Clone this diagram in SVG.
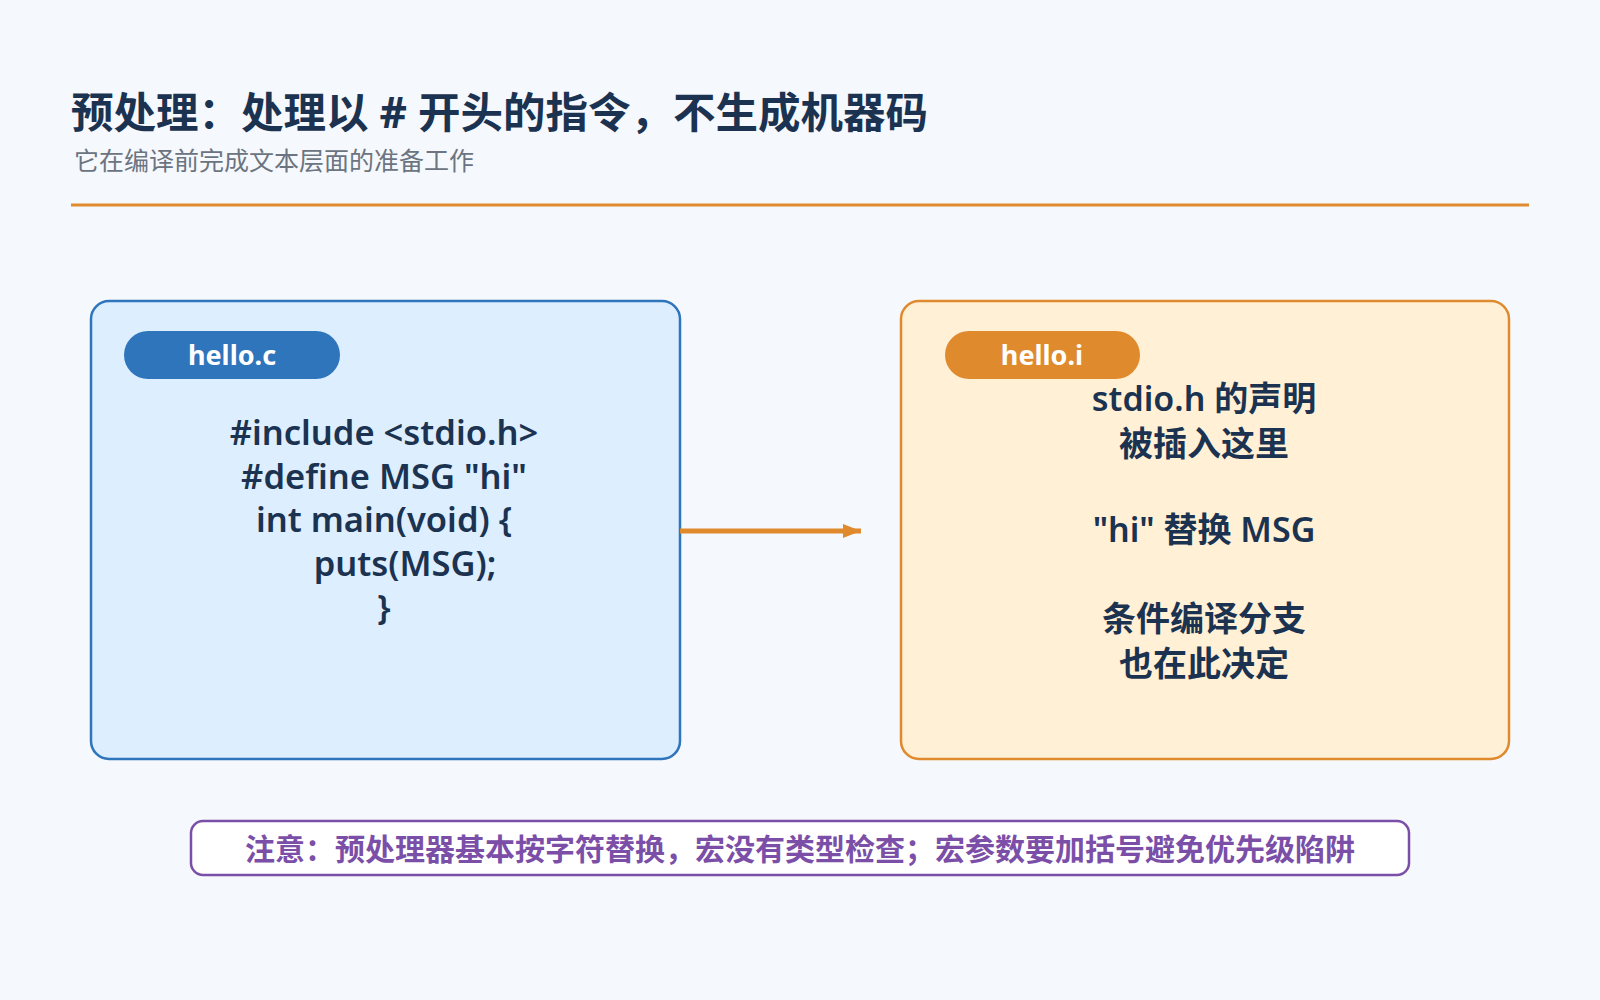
<svg xmlns="http://www.w3.org/2000/svg" width="1600" height="1000" viewBox="0 0 1600 1000">
<style>
.t{font-family:"Noto Sans","Noto Sans CJK SC",sans-serif;fill:#1b3350;font-weight:700}
.code{font-family:"Noto Sans","Noto Sans CJK SC",sans-serif;fill:#1b3350;font-size:34.5px;font-weight:600;text-anchor:middle}
.pill{font-family:"Noto Sans",sans-serif;fill:#fff;font-size:27px;font-weight:700;text-anchor:middle}
</style>
<defs>
<marker id="a2" viewBox="0 0 18 14" refX="18" refY="7" markerWidth="18" markerHeight="14" markerUnits="userSpaceOnUse" orient="auto"><path d="M0,0 L18,7 L0,14 Z" fill="#e08a2e"/></marker></defs>
<rect width="1600" height="1000" fill="#f5f8fc"/>
<text class="t" x="71" y="128" font-size="42.5">预处理：处理以 # 开头的指令，不生成机器码</text>
<text x="74" y="170" font-size="25" fill="#6b7480" font-family="Noto Sans CJK SC,sans-serif">它在编译前完成文本层面的准备工作</text>
<line x1="71" y1="205" x2="1529" y2="205" stroke="#e08a2e" stroke-width="3"/>
<g id="hello-c">
<rect x="91" y="301" width="589" height="458" rx="18" fill="#ddeeff" stroke="#2e75bb" stroke-width="2.5"/>
<rect x="124" y="331" width="216" height="48" rx="24" fill="#2e75bb"/>
<text class="pill" x="232" y="365">hello.c</text>
<text class="code" x="384" y="445">#include &lt;stdio.h&gt;</text>
<text class="code" x="384" y="489">#define MSG "hi"</text>
<text class="code" x="384" y="532">int main(void) {</text>
<text class="code" x="405" y="576">puts(MSG);</text>
<text class="code" x="384" y="620">}</text>
</g>
<g id="hello-i">
<rect x="901" y="301" width="608" height="458" rx="18" fill="#fff0d6" stroke="#e08a2e" stroke-width="2.5"/>
<rect x="945" y="331" width="195" height="48" rx="24" fill="#e08a2e"/>
<text class="pill" x="1042" y="365">hello.i</text>
<g style="font-size:34px">
<text class="code" x="1204" y="411" style="font-size:34px">stdio.h 的声明</text>
<text class="code" x="1204" y="456" style="font-size:34px">被插入这里</text>
<text class="code" x="1204" y="542" style="font-size:34px">"hi" 替换 MSG</text>
<text class="code" x="1204" y="631" style="font-size:34px">条件编译分支</text>
<text class="code" x="1204" y="676" style="font-size:34px">也在此决定</text>
</g>
</g>
<g id="connectors">
<line x1="680" y1="531" x2="861" y2="531" stroke="#e08a2e" stroke-width="5" marker-end="url(#a2)"/>
</g>
<g id="note">
<rect x="191" y="821" width="1218" height="54" rx="12" fill="#fff" stroke="#7b4fa8" stroke-width="2.5"/>
<text x="800" y="860" text-anchor="middle" font-size="30" font-weight="700" fill="#7b4fa8" font-family="Noto Sans CJK SC,sans-serif">注意：预处理器基本按字符替换，宏没有类型检查；宏参数要加括号避免优先级陷阱</text>
</g>
</svg>
